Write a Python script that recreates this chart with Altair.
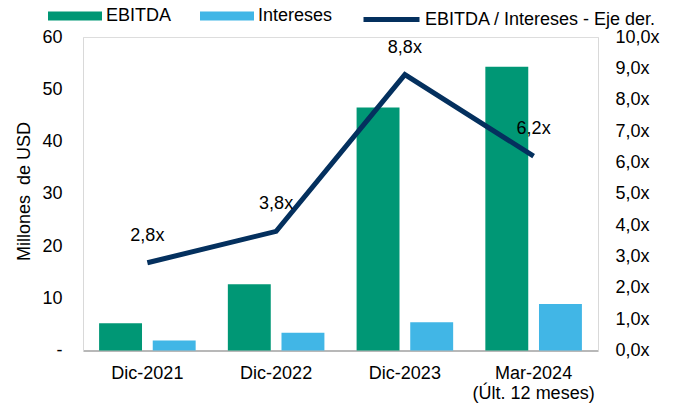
import altair as alt
import pandas as pd

# ---------------- data ----------------
periodos = ["Dic-2021", "Dic-2022", "Dic-2023", "Mar-2024\n(Últ. 12 meses)"]
ebitda = [5.2, 12.7, 46.5, 54.3]
intereses = [1.9, 3.4, 5.4, 8.9]
cobertura = [2.8, 3.8, 8.8, 6.2]
series_barras = ["EBITDA", "Intereses"]
serie_linea = "EBITDA / Intereses - Eje der."
titulo_y = "Millones \u00a0de USD"
ticks_izq = [0, 10, 20, 30, 40, 50, 60]
ticks_der = [0, 1, 2, 3, 4, 5, 6, 7, 8, 9, 10]

VERDE = "#009775"
AZUL = "#41B6E6"
NAVY = "#04305E"
FONT = "Liberation Sans"

df_barras = pd.DataFrame({
    "periodo": periodos * 2,
    "serie": [series_barras[0]] * len(periodos) + [series_barras[1]] * len(periodos),
    "valor": ebitda + intereses,
})
df_linea = pd.DataFrame({
    "periodo": periodos,
    "ratio": cobertura,
    "serie": [serie_linea] * len(periodos),
})

x_enc = alt.X(
    "periodo:N", sort=periodos, title=None,
    scale=alt.Scale(paddingInner=0, paddingOuter=0),
    axis=alt.Axis(
        labelAngle=0, labelExpr="split(datum.label, '\\n')", labelLineHeight=20,
        labelPadding=14, ticks=False, tickSize=0, domainColor="#A6A6A6",
        domainWidth=1.5, labelFontSize=18, labelColor="#000000", grid=False,
        labelFont=FONT,
    ),
)

bars = alt.Chart(df_barras).mark_bar().encode(
    x=x_enc,
    xOffset=alt.XOffset("serie:N", sort=series_barras,
                        scale=alt.Scale(paddingInner=0.2, paddingOuter=0.3)),
    y=alt.Y(
        "valor:Q", title=titulo_y,
        scale=alt.Scale(domain=[0, 60], nice=False, zero=True),
        axis=alt.Axis(
            values=ticks_izq, labelExpr="datum.value == 0 ? '-' : datum.label",
            grid=False, ticks=False, tickSize=0, labelPadding=21,
            domainColor="#D9D9D9", labelFontSize=18, labelColor="#000000",
            labelFont=FONT, titleFont=FONT, titleFontSize=18,
            titleFontWeight="normal", titleColor="#000000",
            titleX=-59, titleY=154, titleAngle=270,
            titleBaseline="middle", titleAlign="center",
        ),
    ),
    fill=alt.Fill(
        "serie:N", title=None,
        scale=alt.Scale(domain=series_barras, range=[VERDE, AZUL]),
        legend=alt.Legend(
            orient="none", legendX=-35, legendY=-48, direction="horizontal",
            symbolType="M-1,-0.17H1V0.17H-1Z", symbolSize=2916,
            symbolStrokeWidth=0, labelFontSize=18, labelFont=FONT,
            labelColor="#000000", labelOffset=4, columnPadding=28, padding=0,
            labelLimit=400,
        ),
    ),
)

y_line = alt.Y(
    "ratio:Q", title=None,
    scale=alt.Scale(domain=[0, 10], nice=False, zero=True),
    axis=alt.Axis(
        orient="right", values=ticks_der,
        labelExpr="replace(format(datum.value, '.1f'), '.', ',') + 'x'",
        grid=False, ticks=False, tickSize=0, labelPadding=17,
        domainColor="#D9D9D9", labelFontSize=18, labelColor="#000000",
        labelFont=FONT,
    ),
)

base_linea = alt.Chart(df_linea).encode(x=x_enc, y=y_line)

linea = base_linea.mark_line(strokeWidth=5).encode(
    stroke=alt.Stroke(
        "serie:N", title=None,
        scale=alt.Scale(domain=[serie_linea], range=[NAVY]),
        legend=alt.Legend(
            orient="none", legendX=278, legendY=-48,
            symbolType="M-1,0H1", symbolSize=3136, symbolStrokeWidth=5,
            labelFontSize=18, labelFont=FONT, labelColor="#000000",
            labelOffset=3, padding=0, labelLimit=400,
        ),
    ),
)

etiquetas = base_linea.transform_calculate(
    etiqueta="replace(format(datum.ratio, '.1f'), '.', ',') + 'x'"
).mark_text(dy=-27, fontSize=18, font=FONT, color="#000000",
            align="center", baseline="middle").encode(text="etiqueta:N")

capa_linea = alt.layer(linea, etiquetas)

chart = (
    alt.layer(bars, capa_linea)
    .resolve_scale(y="independent")
    .properties(
        width=515, height=313.5,
        autosize=alt.AutoSizeParams(type="none"),
        padding={"left": 75, "top": 29, "right": 67, "bottom": 55},
    )
    .configure_view(stroke=None)
    .configure(font=FONT)
)

chart.save("out.html", embed_options={"renderer": "svg", "actions": False})
